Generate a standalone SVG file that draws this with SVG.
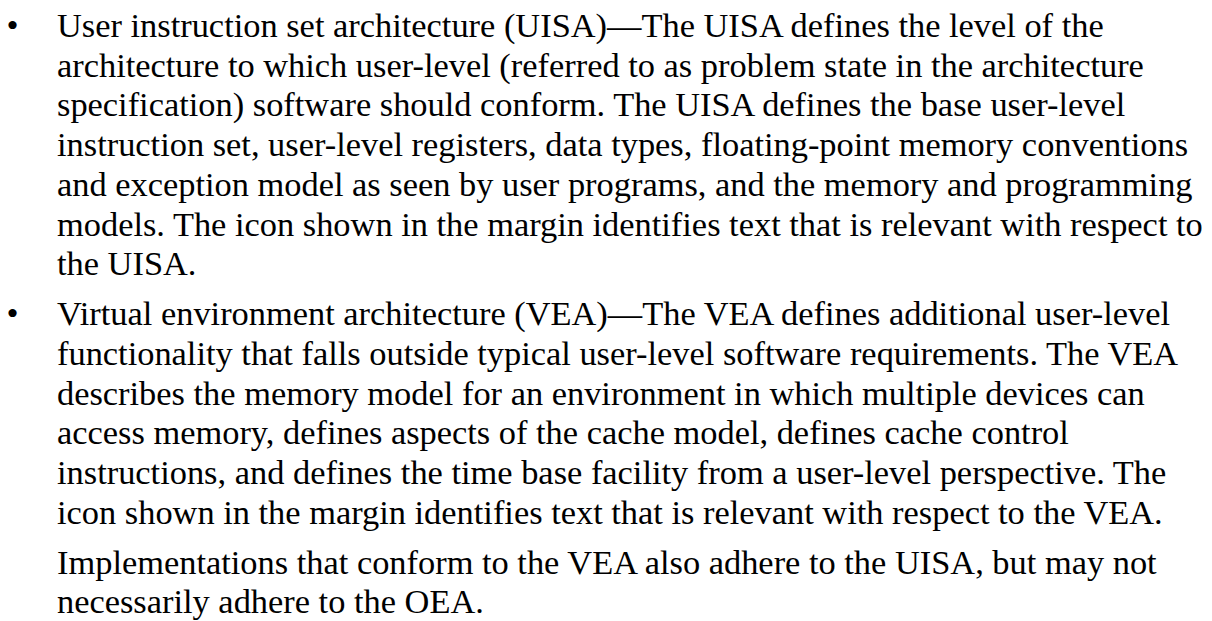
<svg xmlns="http://www.w3.org/2000/svg" width="1212" height="621" viewBox="0 0 1212 621">
<style>
  .t { font-family: "Liberation Serif", "Times New Roman", serif; font-size: 34.4px; fill: #000; }
</style>
<rect x="0" y="0" width="1212" height="621" fill="#fff"/>
<g id="uisa">
  <text class="t" x="6.5" y="37">•</text>
  <text class="t" x="57" y="37">User instruction set architecture (UISA)—The UISA defines the level of the</text>
  <text class="t" x="57" y="76.7">architecture to which user-level (referred to as problem state in the architecture</text>
  <text class="t" x="57" y="116.4">specification) software should conform. The UISA defines the base user-level</text>
  <text class="t" x="57" y="156.1">instruction set, user-level registers, data types, floating-point memory conventions</text>
  <text class="t" x="57" y="195.8">and exception model as seen by user programs, and the memory and programming</text>
  <text class="t" x="57" y="235.5">models. The icon shown in the margin identifies text that is relevant with respect to</text>
  <text class="t" x="57" y="275.2">the UISA.</text>
</g>
<g id="vea">
  <text class="t" x="6.5" y="325.2">•</text>
  <text class="t" x="57" y="325.2">Virtual environment architecture (VEA)—The VEA defines additional user-level</text>
  <text class="t" x="57" y="364.9">functionality that falls outside typical user-level software requirements. The VEA</text>
  <text class="t" x="57" y="404.6">describes the memory model for an environment in which multiple devices can</text>
  <text class="t" x="57" y="444.3">access memory, defines aspects of the cache model, defines cache control</text>
  <text class="t" x="57" y="484">instructions, and defines the time base facility from a user-level perspective. The</text>
  <text class="t" x="57" y="523.7">icon shown in the margin identifies text that is relevant with respect to the VEA.</text>
</g>
<g id="impl">
  <text class="t" x="57" y="573.7">Implementations that conform to the VEA also adhere to the UISA, but may not</text>
  <text class="t" x="57" y="613.4">necessarily adhere to the OEA.</text>
</g>
</svg>
